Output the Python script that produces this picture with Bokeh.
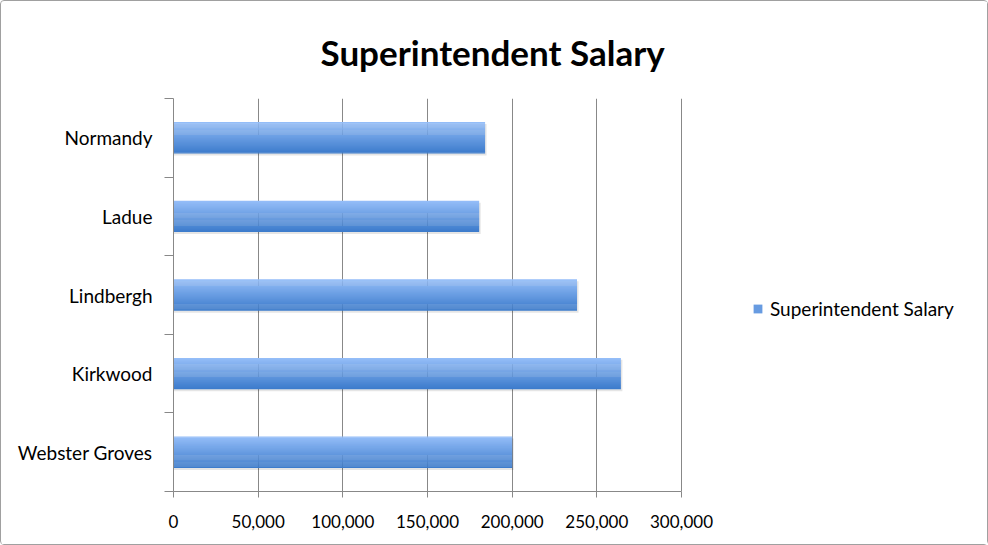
from bokeh.plotting import figure
from bokeh.models import (Range1d, LinearAxis, FixedTicker,
                          NumeralTickFormatter, Legend, LegendItem, ColumnDataSource)
from bokeh.transform import dodge
from bokeh.embed import file_html
from bokeh.resources import INLINE

# ---- data ----
districts = ["Webster Groves", "Kirkwood", "Lindbergh", "Ladue", "Normandy"]
salary = [200000, 264200, 238300, 180500, 184000]
x_ticks = [0, 50000, 100000, 150000, 200000, 250000, 300000]
series_name = "Superintendent Salary"
title_text = "Superintendent Salary"

FONT = "Lato"
pos = [i + 0.5 for i in range(len(districts))]
bounds = list(range(len(districts) + 1))
src = ColumnDataSource(dict(pos=pos, value=salary))

# layout: plot area 172..680 px holds the axis; frame extends right to host the legend
W, H = 988, 545
LEFT, AXIS_RIGHT, RIGHT_BORDER = 172, 680, 8
x_end = x_ticks[-1] * (W - RIGHT_BORDER - LEFT) / (AXIS_RIGHT - LEFT)

p = figure(width=W, height=H, y_range=Range1d(0, len(districts)), x_range=Range1d(0, x_end),
           output_backend="svg", toolbar_location=None, y_axis_location=None,
           min_border_left=LEFT, min_border_right=RIGHT_BORDER, min_border_top=97,
           min_border_bottom=55)
p.outline_line_color = None
p.styles = {"border": "1px solid #a0a0a0", "border-radius": "4px", "box-sizing": "border-box"}

p.title.text = title_text
p.title.text_font = FONT
p.title.text_font_size = "35px"
p.title.text_font_style = "bold"
p.title.align = "left"
p.title.offset = 147
p.title.standoff = 51
p.title.text_color = "#000000"

# x axis
xa = p.xaxis[0]
xa.ticker = FixedTicker(ticks=x_ticks)
xa.bounds = (x_ticks[0], x_ticks[-1])
xa.formatter = NumeralTickFormatter(format="0,0")
xa.axis_line_color = "#888888"
xa.major_tick_line_color = "#888888"
xa.major_tick_out = 6
xa.major_tick_in = 0
xa.minor_tick_line_color = None
xa.major_label_text_font = FONT
xa.major_label_text_font_size = "17px"
xa.major_label_text_color = "#000000"
xa.major_label_standoff = 17

p.xgrid.ticker = FixedTicker(ticks=x_ticks)
p.xgrid.grid_line_color = "#888888"
p.ygrid.grid_line_color = None

# y axes: boundary ticks (minor, unlabeled) + category labels
inner = LinearAxis(ticker=FixedTicker(ticks=[], minor_ticks=bounds),
                   axis_line_color="#888888", major_tick_line_color=None,
                   minor_tick_line_color="#888888", minor_tick_out=9, minor_tick_in=0,
                   major_label_standoff=0)
p.add_layout(inner, "left")
cax = LinearAxis(ticker=FixedTicker(ticks=pos),
                 major_label_overrides={pp: d for pp, d in zip(pos, districts)},
                 axis_line_color=None, major_tick_line_color=None, minor_tick_line_color=None,
                 major_label_text_font=FONT, major_label_text_font_size="19px",
                 major_label_text_color="#000000", major_label_standoff=6)
p.add_layout(cax, "left")

# shadow
p.hbar(y=dodge("pos", -0.025, range=p.y_range), right=dodge("value", 900, range=p.x_range),
       height=0.4, left=0, source=src, fill_color="#000000", fill_alpha=0.10, line_color=None)

# gradient bars
top = (0x94, 0xbd, 0xf8)
bot = (0x3d, 0x7c, 0xcc)
n = 30
bh = 0.395
renderers = []
for i in range(n):
    t = i / (n - 1)
    c = tuple(int(round(top[k] + (bot[k] - top[k]) * t)) for k in range(3))
    col = "#%02x%02x%02x" % c
    off = bh / 2 - (i + 0.5) * bh / n
    r = p.hbar(y=dodge("pos", off, range=p.y_range), right="value", left=0,
               height=bh / n * 1.3, source=src, fill_color=col, line_color=None)
    renderers.append(r)

legend = Legend(items=[LegendItem(label=series_name, renderers=[renderers[n // 2]])],
                location=(579, 171), orientation="vertical",
                glyph_width=11, glyph_height=11, label_standoff=7,
                label_text_font=FONT, label_text_font_size="19px", label_text_color="#000000",
                border_line_color=None, background_fill_alpha=0, padding=0, margin=0)
p.add_layout(legend, "center")

open("out.html", "w").write(file_html(p, INLINE))
